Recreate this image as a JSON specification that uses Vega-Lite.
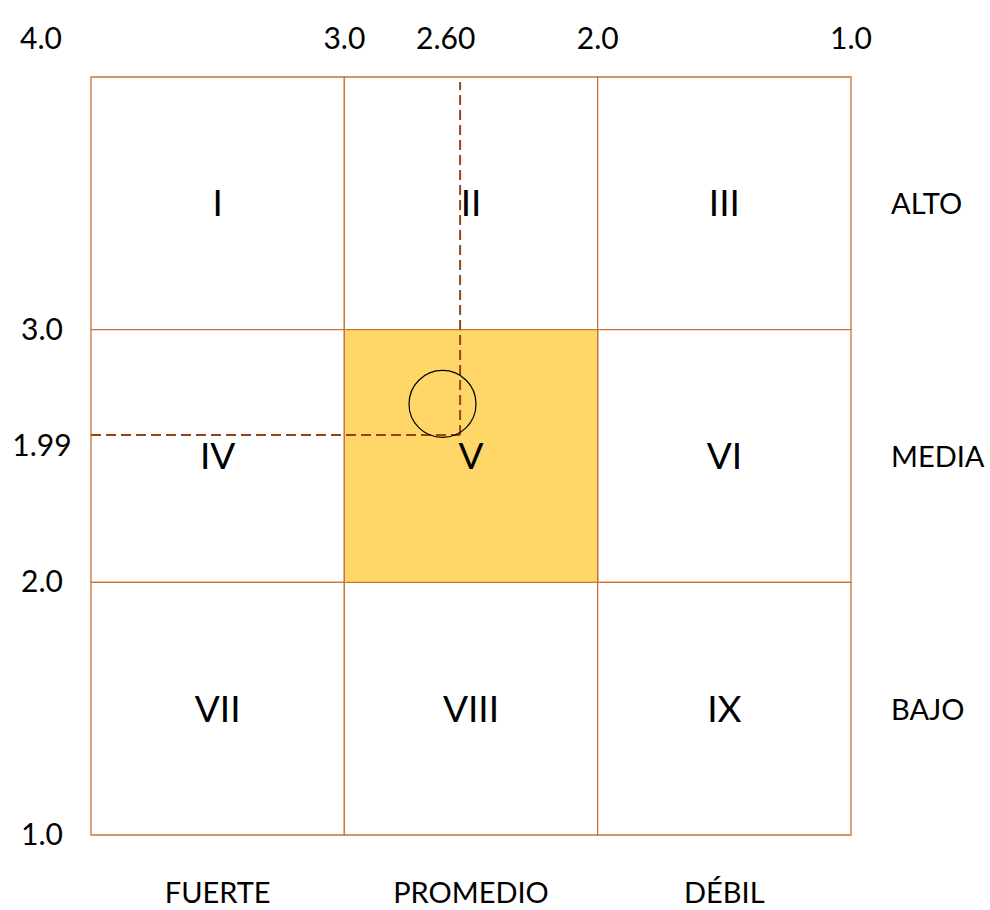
{
  "$schema": "https://vega.github.io/schema/vega-lite/v6.json",
  "width": 760,
  "height": 758,
  "autosize": "none",
  "padding": {"left": 91, "top": 77, "right": 139, "bottom": 75},
  "background": "#FFFFFF",
  "config": {"view": {"stroke": null}, "font": "Lato"},
  "layer": [
    {
      "data": {"values": [
        {"name": "I", "x1": 4, "x2": 3, "y1": 3, "y2": 4, "xc": 3.5, "yc": 3.5},
        {"name": "II", "x1": 3, "x2": 2, "y1": 3, "y2": 4, "xc": 2.5, "yc": 3.5},
        {"name": "III", "x1": 2, "x2": 1, "y1": 3, "y2": 4, "xc": 1.5, "yc": 3.5},
        {"name": "IV", "x1": 4, "x2": 3, "y1": 2, "y2": 3, "xc": 3.5, "yc": 2.5},
        {"name": "VI", "x1": 2, "x2": 1, "y1": 2, "y2": 3, "xc": 1.5, "yc": 2.5},
        {"name": "VII", "x1": 4, "x2": 3, "y1": 1, "y2": 2, "xc": 3.5, "yc": 1.5},
        {"name": "VIII", "x1": 3, "x2": 2, "y1": 1, "y2": 2, "xc": 2.5, "yc": 1.5},
        {"name": "IX", "x1": 2, "x2": 1, "y1": 1, "y2": 2, "xc": 1.5, "yc": 1.5},
        {"name": "V", "x1": 3, "x2": 2, "y1": 2, "y2": 3, "xc": 2.5, "yc": 2.5}
      ]},
      "layer": [
        {
          "mark": {"type": "rect", "stroke": "#C8743F", "strokeWidth": 1.3},
          "encoding": {
            "x": {"field": "x1", "type": "quantitative", "scale": {"domain": [4, 1], "nice": false, "zero": false}, "axis": null},
            "x2": {"field": "x2"},
            "y": {"field": "y1", "type": "quantitative", "scale": {"domain": [1, 4], "nice": false, "zero": false}, "axis": null},
            "y2": {"field": "y2"},
            "fill": {"condition": {"test": "datum.name === 'V'", "value": "#FED768"}, "value": "#FFFFFF"}
          }
        },
        {
          "mark": {"type": "text", "fontSize": 37, "color": "#000000", "align": "center", "baseline": "middle", "dy": 2},
          "encoding": {
            "x": {"field": "xc", "type": "quantitative"},
            "y": {"field": "yc", "type": "quantitative"},
            "text": {"field": "name"}
          }
        }
      ]
    },
    {
      "data": {"values": [
        {"xa": 4, "ya": 2.583, "xb": 2.543, "yb": 2.583},
        {"xa": 2.543, "ya": 2.583, "xb": 2.543, "yb": 3.98}
      ]},
      "mark": {"type": "rule", "color": "#964613", "strokeWidth": 2, "strokeDash": [10, 5]},
      "encoding": {
        "x": {"field": "xa", "type": "quantitative"},
        "y": {"field": "ya", "type": "quantitative"},
        "x2": {"field": "xb"},
        "y2": {"field": "yb"}
      }
    },
    {
      "data": {"values": [{"px": 2.6125, "py": 2.706}]},
      "mark": {"type": "point", "shape": "circle", "filled": false, "size": 4489, "stroke": "#000000", "strokeWidth": 1.2, "opacity": 1},
      "encoding": {
        "x": {"field": "px", "type": "quantitative"},
        "y": {"field": "py", "type": "quantitative"}
      }
    },
    {
      "data": {"values": [
        {"v": 3, "label": "3.0"},
        {"v": 2.6, "label": "2.60"},
        {"v": 2, "label": "2.0"},
        {"v": 1, "label": "1.0"}
      ]},
      "mark": {"type": "text", "fontSize": 30, "color": "#000000", "align": "center", "baseline": "middle", "dy": -37},
      "encoding": {
        "x": {"field": "v", "type": "quantitative"},
        "y": {"datum": 4, "type": "quantitative"},
        "text": {"field": "label"}
      }
    },
    {
      "data": {"values": [
        {"v": 4, "label": "4.0"}
      ]},
      "mark": {"type": "text", "fontSize": 30, "color": "#000000", "align": "center", "baseline": "middle", "dy": -37, "dx": -50},
      "encoding": {
        "x": {"field": "v", "type": "quantitative"},
        "y": {"field": "v", "type": "quantitative"},
        "text": {"field": "label"}
      }
    },
    {
      "data": {"values": [
        {"v": 3, "label": "3.0"},
        {"v": 2.54, "label": "1.99"},
        {"v": 2, "label": "2.0"},
        {"v": 1, "label": "1.0"}
      ]},
      "mark": {"type": "text", "fontSize": 30, "color": "#000000", "align": "center", "baseline": "middle", "dx": -49, "dy": 1},
      "encoding": {
        "x": {"datum": 4, "type": "quantitative"},
        "y": {"field": "v", "type": "quantitative"},
        "text": {"field": "label"}
      }
    },
    {
      "data": {"values": [
        {"v": 3.5, "label": "FUERTE"},
        {"v": 2.5, "label": "PROMEDIO"},
        {"v": 1.5, "label": "DÉBIL"}
      ]},
      "mark": {"type": "text", "fontSize": 29, "color": "#000000", "align": "center", "baseline": "middle", "dy": 59},
      "encoding": {
        "x": {"field": "v", "type": "quantitative"},
        "y": {"datum": 1, "type": "quantitative"},
        "text": {"field": "label"}
      }
    },
    {
      "data": {"values": [
        {"v": 3.5, "label": "ALTO"},
        {"v": 2.5, "label": "MEDIA"},
        {"v": 1.5, "label": "BAJO"}
      ]},
      "mark": {"type": "text", "fontSize": 29, "color": "#000000", "align": "left", "baseline": "middle", "dx": 40, "dy": 2},
      "encoding": {
        "x": {"datum": 1, "type": "quantitative"},
        "y": {"field": "v", "type": "quantitative"},
        "text": {"field": "label"}
      }
    }
  ]
}
